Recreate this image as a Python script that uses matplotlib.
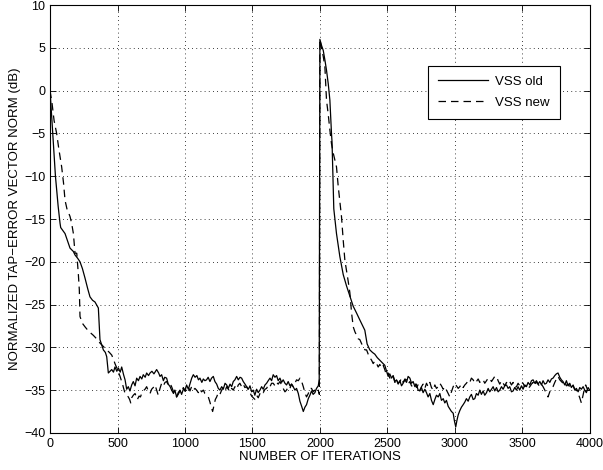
import matplotlib
matplotlib.use('Agg')
import matplotlib.pyplot as plt

plt.rcParams['font.family'] = ['Liberation Sans', 'DejaVu Sans']

# VSS old (solid)
old_x = [0, 20, 40, 60, 74, 79, 111, 148, 173, 185, 205, 222, 240, 259, 280, 296, 315, 333, 358, 365,
         370, 395, 410, 420, 432, 445, 457, 470, 481, 495, 506, 520, 531, 545, 556, 568, 580, 592, 605, 617,
         630, 642, 655, 667, 680, 691, 705, 716, 730, 741, 755, 770, 790, 805, 815, 827, 840, 850, 864, 876,
         890, 901, 915, 925, 938, 950, 963, 975, 990, 1000, 1012, 1025, 1038, 1050, 1062, 1075, 1088, 1100, 1111, 1125,
         1136, 1148, 1160, 1172, 1185, 1197, 1210, 1222, 1235, 1247, 1259, 1272, 1284, 1297, 1309, 1321, 1334, 1346, 1358, 1370,
         1383, 1395, 1408, 1420, 1432, 1445, 1457, 1470, 1482, 1494, 1506, 1518, 1531, 1543, 1556, 1568, 1580, 1593, 1605, 1617,
         1630, 1642, 1654, 1667, 1679, 1691, 1704, 1716, 1728, 1741, 1753, 1765, 1778, 1790, 1802, 1815, 1827, 1840, 1852, 1865,
         1877, 1889, 1901, 1914, 1926, 1938, 1950, 1963, 1975, 1988, 1995, 2000, 2012, 2025, 2037, 2049, 2062, 2074, 2086, 2090,
         2103, 2123, 2148, 2173, 2197, 2222, 2247, 2272, 2296, 2333, 2350, 2370, 2390, 2407, 2425, 2444, 2462, 2481, 2494, 2506,
         2518, 2531, 2543, 2556, 2568, 2580, 2593, 2605, 2617, 2630, 2642, 2654, 2667, 2679, 2691, 2704, 2716, 2728, 2741, 2753,
         2765, 2778, 2790, 2802, 2815, 2827, 2840, 2852, 2864, 2877, 2889, 2901, 2914, 2926, 2938, 2951, 2963, 2975, 2988, 2997,
         3007, 3015, 3025, 3037, 3049, 3062, 3074, 3086, 3099, 3111, 3123, 3136, 3148, 3160, 3173, 3185, 3197, 3210, 3222, 3235,
         3247, 3259, 3272, 3284, 3296, 3309, 3321, 3333, 3346, 3358, 3370, 3383, 3395, 3407, 3420, 3432, 3444, 3457, 3469, 3481,
         3494, 3506, 3518, 3531, 3543, 3556, 3568, 3580, 3593, 3605, 3617, 3630, 3642, 3654, 3667, 3679, 3691, 3704, 3716, 3728,
         3741, 3753, 3765, 3778, 3790, 3802, 3815, 3827, 3840, 3852, 3864, 3877, 3889, 3901, 3914, 3926, 3938, 3951, 3963, 3975,
         3988, 4000]
old_y = [0, -5, -10, -13.5, -15.5, -16.0, -16.7, -18.4, -18.8, -19.2, -19.6, -20.0, -20.8, -21.9, -23.2, -24.1, -24.5, -24.7, -25.4, -27.5,
         -29.1, -30.3, -30.6, -31.1, -33.0, -32.8, -32.6, -32.9, -32.3, -32.8, -32.4, -32.9, -32.3, -33.2, -33.8, -34.9, -34.6, -35.1, -34.4, -34.0,
         -34.5, -33.6, -33.9, -33.4, -33.7, -33.2, -33.5, -33.0, -33.3, -33.0, -32.8, -33.1, -32.6, -33.0, -33.4, -33.2, -33.9, -33.5, -33.6, -34.3,
         -34.6, -35.0, -35.4, -35.0, -35.8, -35.3, -35.0, -35.5, -34.8, -35.1, -34.4, -34.9, -34.2, -33.6, -33.2, -33.5, -33.3, -33.8, -33.6, -34.1,
         -33.7, -33.9, -33.8, -33.5, -34.0, -33.6, -33.4, -34.0, -34.3, -34.8, -35.0, -34.6, -34.9, -34.2, -34.4, -34.8, -34.3, -34.6, -34.0, -33.8,
         -33.4, -33.8, -33.5, -33.6, -34.0, -34.3, -34.6, -34.9, -34.5, -35.2, -35.0, -35.6, -34.9, -35.3, -35.0, -34.6, -34.9, -34.4, -34.2, -33.9,
         -33.6, -33.9, -33.2, -33.5, -33.3, -33.9, -33.6, -34.1, -33.8, -34.2, -34.4, -34.0, -34.5, -34.3, -34.6, -35.0, -34.8, -35.4, -36.3, -36.9,
         -37.5, -37.0, -36.7, -36.0, -35.6, -35.1, -35.5, -35.3, -34.8, -34.5, -33.8, 6.0, 5.3, 4.7, 3.6, 2.4, 0.8, -1.1, -5.0, -6.0,
         -13.8, -16.7, -19.4, -21.5, -22.8, -24.0, -25.2, -26.0, -26.8, -28.0, -29.6, -30.3, -30.6, -30.8, -31.2, -31.5, -31.8, -32.1, -32.8, -33.4,
         -33.1, -33.6, -33.3, -34.0, -33.8, -34.3, -33.9, -34.5, -34.2, -33.8, -34.1, -33.4, -33.6, -34.2, -34.0, -34.6, -34.3, -35.0, -35.1, -34.7,
         -35.3, -34.9, -35.3, -35.8, -35.4, -36.2, -36.7, -36.1, -35.6, -35.8, -35.4, -36.2, -36.0, -36.5, -36.2, -36.9, -37.2, -37.5, -37.7, -38.6,
         -39.3, -38.6, -37.9, -37.4, -37.0, -36.7, -36.4, -36.0, -36.3, -35.8, -35.5, -36.1, -36.0, -35.4, -35.6, -35.0, -35.5, -35.1, -35.6, -35.3,
         -34.8, -35.2, -34.9, -34.6, -35.1, -34.7, -35.2, -35.0, -34.6, -34.9, -34.5, -34.4, -34.8, -34.6, -35.2, -35.1, -34.7, -35.0, -34.6, -35.0,
         -34.5, -34.9, -34.4, -34.6, -34.1, -34.4, -33.9, -33.8, -34.2, -33.9, -34.3, -34.0, -34.4, -33.9, -34.3, -34.2, -33.8, -34.1, -33.7, -33.6,
         -33.3, -33.1, -33.0, -33.5, -33.8, -34.0, -34.4, -33.9, -34.5, -34.2, -34.7, -34.4, -35.0, -34.8, -35.2, -34.7, -34.9, -34.6, -35.0, -35.3,
         -34.7, -35.0]

# VSS new (dashed)
new_x = [0, 15, 30, 49, 65, 86, 100, 111, 125, 148, 160, 173, 185, 198, 210, 217, 222, 240, 259, 285,
         321, 345, 370, 395, 420, 440, 457, 470, 481, 500, 519, 537, 556, 568, 580, 590, 598, 605, 617, 630,
         640, 647, 660, 670, 679, 690, 704, 716, 728, 741, 753, 765, 778, 790, 802, 815, 827, 840, 852, 864,
         876, 889, 901, 913, 925, 938, 950, 963, 975, 988, 1000, 1012, 1025, 1037, 1049, 1062, 1074, 1086, 1099, 1111,
         1123, 1136, 1148, 1160, 1173, 1185, 1195, 1205, 1215, 1225, 1235, 1247, 1259, 1272, 1284, 1297, 1309, 1321, 1334, 1346,
         1358, 1370, 1383, 1395, 1407, 1420, 1432, 1444, 1457, 1469, 1482, 1494, 1506, 1519, 1531, 1543, 1556, 1568, 1580, 1593,
         1605, 1617, 1630, 1642, 1654, 1667, 1679, 1691, 1704, 1716, 1728, 1741, 1753, 1765, 1778, 1790, 1802, 1815, 1827, 1840,
         1852, 1865, 1877, 1889, 1901, 1914, 1926, 1938, 1950, 1963, 1975, 1988, 1996, 2000, 2012, 2025, 2037, 2049, 2062, 2074,
         2086, 2099, 2111, 2123, 2136, 2148, 2160, 2173, 2185, 2197, 2210, 2222, 2235, 2247, 2260, 2272, 2284, 2296, 2310, 2321,
         2334, 2346, 2358, 2370, 2383, 2395, 2407, 2420, 2432, 2444, 2457, 2469, 2481, 2494, 2506, 2518, 2531, 2543, 2556, 2568,
         2580, 2593, 2605, 2617, 2630, 2642, 2654, 2667, 2679, 2691, 2704, 2716, 2728, 2741, 2753, 2765, 2778, 2790, 2802, 2815,
         2827, 2840, 2852, 2864, 2877, 2889, 2901, 2914, 2926, 2938, 2951, 2963, 2975, 2988, 3000, 3012, 3025, 3037, 3049, 3062,
         3074, 3086, 3099, 3111, 3123, 3136, 3148, 3160, 3173, 3185, 3197, 3210, 3222, 3235, 3247, 3259, 3272, 3284, 3296, 3309,
         3321, 3333, 3346, 3358, 3370, 3383, 3395, 3407, 3420, 3432, 3444, 3457, 3469, 3481, 3494, 3506, 3518, 3531, 3543, 3556,
         3568, 3580, 3593, 3605, 3617, 3630, 3642, 3654, 3667, 3679, 3691, 3704, 3716, 3728, 3741, 3753, 3765, 3778, 3790, 3802,
         3815, 3827, 3840, 3852, 3864, 3877, 3889, 3901, 3914, 3926, 3938, 3950, 3960, 3970, 3982, 3995, 4000]
new_y = [0, -1.5, -3.5, -5.0, -6.8, -8.9, -10.8, -12.8, -13.8, -14.7, -15.5, -16.7, -19.0, -19.0, -21.5, -23.3, -26.4, -27.2, -27.6, -28.1,
         -28.6, -29.0, -29.5, -29.9, -30.3, -30.6, -30.9, -31.4, -31.9, -32.6, -33.4, -34.3, -35.4, -35.6, -35.8, -36.1, -36.5, -35.9, -35.6, -35.4,
         -35.8, -36.1, -35.7, -35.8, -35.4, -35.1, -34.9, -34.6, -35.1, -35.4, -34.9, -34.7, -34.4, -35.0, -35.6, -34.8, -34.2, -34.5, -34.1, -34.0,
         -34.4, -34.2, -34.6, -35.1, -35.4, -35.8, -35.5, -35.1, -35.2, -34.7, -35.1, -35.0, -34.6, -35.1, -34.6, -35.0, -34.8, -35.0, -35.3, -34.9,
         -35.2, -35.0, -35.4, -35.5, -35.8, -36.4, -37.0, -37.5, -36.8, -36.1, -35.8, -35.3, -35.5, -35.0, -34.7, -35.1, -34.6, -34.9, -35.2, -34.8,
         -35.0, -34.6, -34.9, -34.4, -34.2, -34.6, -34.3, -34.7, -34.6, -35.0, -35.3, -35.7, -35.9, -36.1, -35.6, -35.9, -35.4, -35.1, -35.3, -34.9,
         -34.8, -34.4, -34.6, -34.2, -34.2, -34.5, -34.1, -34.3, -34.0, -34.4, -34.8, -35.2, -35.0, -34.6, -34.8, -34.3, -34.6, -34.2, -33.8, -33.9,
         -33.6, -34.0, -34.6, -35.3, -35.8, -35.4, -34.8, -34.8, -35.2, -35.0, -35.3, -35.0, -35.5, 6.0, 5.0, 4.0, 2.8, -1.1, -2.8, -4.6,
         -6.2, -7.3, -8.1, -8.9, -11.2, -13.0, -14.7, -17.5, -19.8, -21.0, -22.3, -23.6, -26.0, -27.6, -28.2, -28.6, -29.0, -29.1, -29.6, -29.9,
         -30.3, -30.3, -30.8, -31.2, -31.5, -31.9, -31.6, -31.9, -32.3, -32.0, -32.4, -32.1, -32.6, -33.3, -33.0, -33.6, -33.2, -33.4, -34.1, -33.7,
         -34.2, -34.0, -33.6, -34.1, -33.7, -33.8, -34.3, -34.0, -34.5, -34.6, -34.2, -34.7, -34.4, -35.0, -34.6, -34.3, -34.8, -34.2, -34.6, -34.1,
         -34.7, -35.0, -34.4, -34.8, -34.6, -34.2, -34.5, -34.9, -34.6, -35.0, -35.4, -35.8, -35.2, -34.6, -34.2, -34.5, -34.8, -34.6, -34.3, -34.7,
         -34.4, -34.2, -33.9, -34.1, -33.6, -33.8, -34.2, -34.0, -33.7, -34.1, -33.8, -33.8, -34.2, -33.9, -33.6, -33.6, -34.0, -33.7, -33.4, -33.4,
         -33.9, -34.3, -33.9, -34.2, -34.5, -34.1, -34.3, -34.0, -34.4, -34.1, -34.7, -34.6, -34.2, -34.5, -34.1, -34.2, -34.6, -34.4, -34.8, -34.6,
         -34.3, -34.1, -34.5, -34.0, -34.3, -34.6, -34.3, -34.6, -35.0, -35.4, -35.8, -35.2, -34.9, -34.6, -34.1, -33.7, -33.4, -33.8, -34.0, -34.2,
         -34.0, -34.5, -34.3, -34.6, -34.8, -34.5, -34.9, -35.0, -35.4, -35.9, -36.5, -35.6, -34.9, -34.4, -34.9, -35.3, -35.1]

x_ticks = [0, 500, 1000, 1500, 2000, 2500, 3000, 3500, 4000]
y_ticks = [-40, -35, -30, -25, -20, -15, -10, -5, 0, 5, 10]

fig = plt.figure(figsize=(6.03, 4.70), dpi=100)
ax = fig.add_axes([0.083, 0.079, 0.895, 0.910])

ax.plot(old_x, old_y, color='black', lw=0.9, label='VSS old')
ax.plot(new_x, new_y, color='black', lw=0.9, dashes=(6, 4), label='VSS new')

ax.set_xlim(0, 4000)
ax.set_ylim(-40, 10)
ax.set_xticks(x_ticks)
ax.set_yticks(y_ticks)
ax.tick_params(direction='in', top=True, right=True, labelsize=9, length=4, width=0.6)
ax.grid(True, linestyle=(0, (1, 4)), color='black', lw=0.6)
for s in ax.spines.values():
    s.set_linewidth(0.8)

ax.set_xlabel('NUMBER OF ITERATIONS', fontsize=9.5, labelpad=1)
ax.set_ylabel('NORMALIZED TAP\u2212ERROR VECTOR NORM (dB)', fontsize=9.5, labelpad=2)

leg = ax.legend(loc='upper right', bbox_to_anchor=(0.944, 0.858), borderaxespad=0,
                fontsize=9.5, fancybox=False, edgecolor='black', framealpha=1,
                handlelength=3.8, handletextpad=0.5, borderpad=0.75, labelspacing=0.65)
leg.get_frame().set_linewidth(0.8)

fig.savefig('out.png', dpi=100)
